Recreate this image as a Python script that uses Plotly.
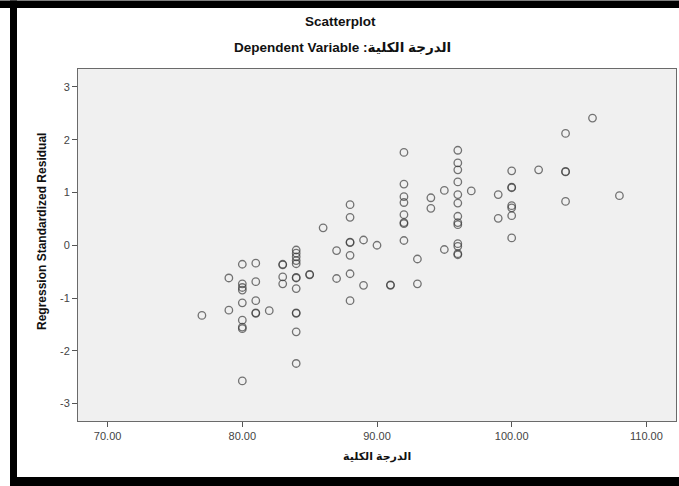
import plotly.graph_objects as go

# ---- data ----
total_score = (
    [77]
    + [79] * 2
    + [80] * 9
    + [81] * 5
    + [82]
    + [83] * 4
    + [84] * 12
    + [85] * 2
    + [86]
    + [87] * 2
    + [88] * 7
    + [89] * 2
    + [90]
    + [91] * 2
    + [92] * 8
    + [93] * 2
    + [94] * 2
    + [95] * 2
    + [96] * 13
    + [97]
    + [99] * 2
    + [100] * 7
    + [102]
    + [104] * 4
    + [106]
    + [108]
)
std_residual = (
    [-1.33]
    + [-0.62, -1.23]
    + [-0.36, -0.73, -0.80, -0.85, -1.09, -1.42, -1.55, -1.58, -2.57]
    + [-0.34, -0.69, -1.05, -1.28, -1.29]
    + [-1.24]
    + [-0.36, -0.37, -0.60, -0.73]
    + [-0.09, -0.15, -0.22, -0.29, -0.35, -0.61, -0.62, -0.82, -1.28, -1.29, -1.64, -2.24]
    + [-0.55, -0.56]
    + [0.33]
    + [-0.10, -0.63]
    + [0.77, 0.53, 0.06, 0.05, -0.19, -0.54, -1.05]
    + [0.10, -0.76]
    + [0.00]
    + [-0.75, -0.76]
    + [1.76, 1.16, 0.92, 0.81, 0.58, 0.43, 0.41, 0.09]
    + [-0.26, -0.73]
    + [0.90, 0.70]
    + [1.04, -0.08]
    + [1.80, 1.56, 1.43, 1.20, 0.96, 0.80, 0.55, 0.43, 0.39, 0.03, -0.02, -0.16, -0.18]
    + [1.03]
    + [0.96, 0.51]
    + [1.41, 1.10, 1.09, 0.75, 0.71, 0.56, 0.14]
    + [1.43]
    + [2.12, 1.40, 1.39, 0.83]
    + [2.41]
    + [0.94]
)

x_ticks = [70, 80, 90, 100, 110]
x_tick_labels = ["70.00", "80.00", "90.00", "100.00", "110.00"]
y_ticks = [-3, -2, -1, 0, 1, 2, 3]
y_tick_labels = ["-3", "-2", "-1", "0", "1", "2", "3"]

title_text = "Scatterplot"
subtitle_text = "Dependent Variable :الدرجة الكلية"
x_title = "الدرجة الكلية"
y_title = "Regression Standardized Residual"

# ---- geometry ----
W, H = 679, 486
L, R, T, B = 78, 3, 69, 65
PW = W - L - R
PH = H - T - B


def px_x(px):
    return (px - L) / PW


def px_y(py):
    return (H - B - py) / PH


FONT = "Liberation Sans, Arial, DejaVu Sans, sans-serif"

fig = go.Figure()
fig.add_trace(
    go.Scatter(
        x=total_score,
        y=std_residual,
        mode="markers",
        marker=dict(
            symbol="circle-open",
            size=7.5,
            color="rgba(55,55,55,0.68)",
            line=dict(width=1.3),
        ),
        hoverinfo="x+y",
        showlegend=False,
    )
)

axis_common = dict(
    ticks="outside",
    ticklen=5,
    tickwidth=1,
    tickcolor="#555",
    showline=True,
    linecolor="#6a6a6a",
    linewidth=1,
    mirror=True,
    showgrid=False,
    zeroline=False,
    tickfont=dict(size=11, color="#444"),
)

fig.update_layout(
    width=W,
    height=H,
    margin=dict(l=L, r=R, t=T, b=B),
    paper_bgcolor="white",
    plot_bgcolor="#f0f0f0",
    font=dict(family=FONT, size=11, color="#333"),
    xaxis=dict(range=[67.8, 112.2], tickvals=x_ticks, ticktext=x_tick_labels, **axis_common),
    yaxis=dict(range=[-3.33, 3.34], tickvals=y_ticks, ticktext=y_tick_labels, **axis_common),
    annotations=[
        dict(text="<b>" + title_text + "</b>", x=px_x(340), xref="paper", y=px_y(22), yref="paper",
             xanchor="center", yanchor="middle", showarrow=False,
             font=dict(family=FONT, size=13.5, color="#111")),
        dict(text="<b>" + subtitle_text + "</b>", x=px_x(342), xref="paper", y=px_y(47), yref="paper",
             xanchor="center", yanchor="middle", showarrow=False,
             font=dict(family=FONT, size=13.5, color="#111")),
        dict(text="<b>" + x_title + "</b>", x=0.5, xref="paper", y=px_y(456), yref="paper",
             xanchor="center", yanchor="middle", showarrow=False,
             font=dict(family=FONT, size=11, color="#111")),
        dict(text="<b>" + y_title + "</b>", x=px_x(42), xref="paper", y=px_y(232), yref="paper",
             xanchor="center", yanchor="middle", showarrow=False, textangle=-90,
             font=dict(family=FONT, size=12, color="#111")),
    ],
    shapes=[
        # black frame of the original screenshot
        dict(type="rect", xref="paper", yref="paper", x0=px_x(0), x1=px_x(W), y0=px_y(8), y1=px_y(0.5),
             fillcolor="black", line=dict(width=0), layer="above"),
        dict(type="rect", xref="paper", yref="paper", x0=px_x(10), x1=px_x(17), y0=px_y(H), y1=px_y(0.5),
             fillcolor="black", line=dict(width=0), layer="above"),
        dict(type="rect", xref="paper", yref="paper", x0=px_x(10), x1=px_x(W), y0=px_y(H), y1=px_y(477),
             fillcolor="black", line=dict(width=0), layer="above"),
    ],
)

fig.write_html(
    "out.html",
    config={"displayModeBar": False},
    post_script="document.body.style.margin='0px';document.body.style.overflow='hidden';",
)
